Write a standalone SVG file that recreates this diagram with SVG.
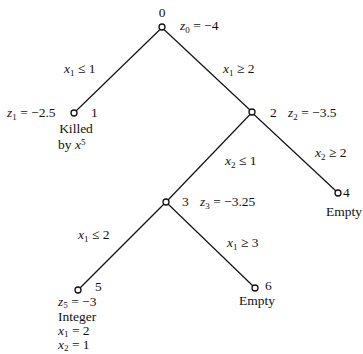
<svg xmlns="http://www.w3.org/2000/svg" width="363" height="354" viewBox="0 0 363 354">
<style>
text{font-family:"Liberation Serif","Times New Roman",serif;font-size:13.5px;fill:#111}
.i{font-style:italic}
.s{font-size:9px}
.n{fill:#fff;stroke:#111;stroke-width:1.3}
.e{stroke:#111;stroke-width:1.2;fill:none}
</style>
<rect width="363" height="354" fill="#fff"/>
<g id="edges">
<line class="e" x1="160" y1="29.5" x2="76" y2="111"/>
<line class="e" x1="164" y1="29.5" x2="250" y2="110"/>
<line class="e" x1="250" y1="114.5" x2="168" y2="200"/>
<line class="e" x1="254" y1="114.5" x2="336" y2="191"/>
<line class="e" x1="164" y1="204" x2="80" y2="288"/>
<line class="e" x1="168" y1="204" x2="253" y2="286"/>
</g>
<g id="edge-labels">
<text x="64" y="73"><tspan class="i">x</tspan><tspan class="s" dy="2.5">1</tspan><tspan dy="-2.5"> ≤ 1</tspan></text>
<text x="223" y="73"><tspan class="i">x</tspan><tspan class="s" dy="2.5">1</tspan><tspan dy="-2.5"> ≥ 2</tspan></text>
<text x="225" y="165"><tspan class="i">x</tspan><tspan class="s" dy="2.5">2</tspan><tspan dy="-2.5"> ≤ 1</tspan></text>
<text x="315" y="157"><tspan class="i">x</tspan><tspan class="s" dy="2.5">2</tspan><tspan dy="-2.5"> ≥ 2</tspan></text>
<text x="78" y="239"><tspan class="i">x</tspan><tspan class="s" dy="2.5">1</tspan><tspan dy="-2.5"> ≤ 2</tspan></text>
<text x="227" y="247"><tspan class="i">x</tspan><tspan class="s" dy="2.5">1</tspan><tspan dy="-2.5"> ≥ 3</tspan></text>
</g>
<g id="node0">
<circle class="n" cx="162" cy="27" r="3"/>
<text x="162" y="17" text-anchor="middle">0</text>
<text x="180" y="30"><tspan class="i">z</tspan><tspan class="s" dy="2.5">0</tspan><tspan dy="-2.5"> = −4</tspan></text>
</g>
<g id="node1">
<circle class="n" cx="74" cy="113" r="3"/>
<text x="91" y="117">1</text>
<text x="7" y="117"><tspan class="i">z</tspan><tspan class="s" dy="2.5">1</tspan><tspan dy="-2.5"> = −2.5</tspan></text>
<text x="76" y="133" text-anchor="middle">Killed</text>
<text x="58" y="149">by <tspan class="i">x</tspan><tspan class="s" dy="-4">5</tspan></text>
</g>
<g id="node2">
<circle class="n" cx="252" cy="112" r="3"/>
<text x="270" y="117">2</text>
<text x="288" y="117"><tspan class="i">z</tspan><tspan class="s" dy="2.5">2</tspan><tspan dy="-2.5"> = −3.5</tspan></text>
</g>
<g id="node3">
<circle class="n" cx="166" cy="202" r="3"/>
<text x="182" y="206">3</text>
<text x="200" y="206"><tspan class="i">z</tspan><tspan class="s" dy="2.5">3</tspan><tspan dy="-2.5"> = −3.25</tspan></text>
</g>
<g id="node4">
<circle class="n" cx="338" cy="193" r="3"/>
<text x="343" y="197">4</text>
<text x="344" y="216" text-anchor="middle">Empty</text>
</g>
<g id="node5">
<circle class="n" cx="78" cy="290" r="3"/>
<text x="95" y="291">5</text>
<text x="58" y="306"><tspan class="i">z</tspan><tspan class="s" dy="2">5</tspan><tspan dy="-2"> = −3</tspan></text>
<text x="58" y="321">Integer</text>
<text x="58" y="335"><tspan class="i">x</tspan><tspan class="s" dy="2">1</tspan><tspan dy="-2"> = 2</tspan></text>
<text x="58" y="349"><tspan class="i">x</tspan><tspan class="s" dy="2">2</tspan><tspan dy="-2"> = 1</tspan></text>
</g>
<g id="node6">
<circle class="n" cx="255" cy="288" r="3"/>
<text x="265" y="290">6</text>
<text x="257" y="305" text-anchor="middle">Empty</text>
</g>
</svg>
